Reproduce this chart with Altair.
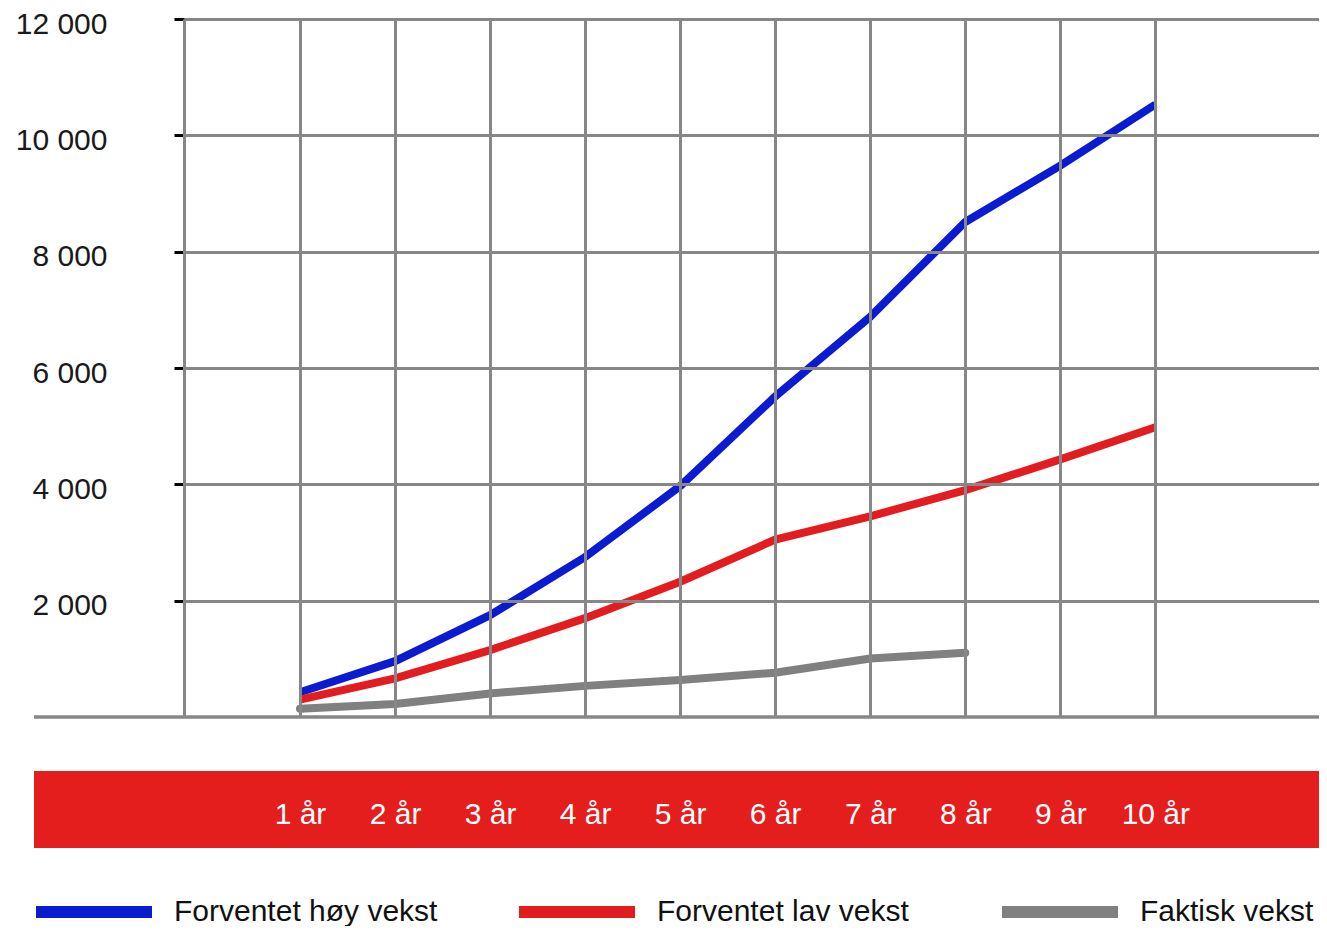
import altair as alt
import pandas as pd

years = [1, 2, 3, 4, 5, 6, 7, 8, 9, 10]
hoy_vekst = [425, 960, 1750, 2750, 3970, 5510, 6880, 8510, 9480, 10530]
lav_vekst = [300, 665, 1150, 1700, 2325, 3050, 3450, 3900, 4430, 4980]
faktisk_vekst = [140, 225, 405, 535, 636, 762, 1005, 1105]

series_names = ["Forventet høy vekst", "Forventet lav vekst", "Faktisk vekst"]
series_colors = ["#0b1bcf", "#e31d1f", "#808080"]
y_ticks = [2000, 4000, 6000, 8000, 10000, 12000]

rows = []
for name, vals in zip(series_names, [hoy_vekst, lav_vekst, faktisk_vekst]):
    for yr, v in zip(years, vals):
        rows.append({"år": yr, "verdi": v, "serie": name})
df = pd.DataFrame(rows)

W, H = 1135, 698
GRID = "#878787"
FONT = "Liberation Sans"

xscale = alt.Scale(domain=[-0.2205, 11.722], nice=False, zero=False)
yscale = alt.Scale(domain=[0, 12000], nice=False)
cscale = alt.Scale(domain=series_names, range=series_colors)

xaxis = alt.Axis(values=years, grid=True, gridColor=GRID, gridWidth=3, gridOpacity=1,
                 ticks=False, domain=False, labelColor="white", labelFontSize=30,
                 labelFont=FONT, labelPadding=97, labelBaseline="middle",
                 labelExpr="datum.value + ' år'", title=None, zindex=1)
yaxis = alt.Axis(values=y_ticks, grid=True, gridColor=GRID, gridWidth=3, gridOpacity=1,
                 ticks=True, tickColor="black", tickSize=10, tickWidth=3,
                 domain=True, domainColor=GRID, domainWidth=3,
                 labelColor="#1a1a1a", labelFontSize=30, labelFont=FONT,
                 labelPadding=67, labelBaseline="middle", labelOffset=5,
                 labelExpr="replace(format(datum.value, ','), ',', ' ')",
                 title=None, zindex=1)

band = alt.Chart(alt.Data(values=[{"b": 1}])).mark_rect(color="#e41d1d").encode(
    x=alt.value(-150), x2=alt.value(W), y=alt.value(752), y2=alt.value(829)
)

baseline = alt.Chart(pd.DataFrame({"null": [0]})).mark_rule(color=GRID, strokeWidth=3.5).encode(
    y=alt.Y("null:Q", scale=yscale, axis=yaxis), x=alt.value(-150), x2=alt.value(W)
)

legend = alt.Legend(title=None, orient="none", direction="horizontal",
                    legendX=-154, legendY=829, symbolStrokeWidth=12, symbolSize=13456,
                    symbolType="stroke", labelFontSize=30, labelFont=FONT, labelColor="#111",
                    labelLimit=500, labelOffset=16, gridAlign="all", columnPadding=57)

base = alt.Chart(df).encode(
    x=alt.X("år:Q", scale=xscale, axis=xaxis),
    y=alt.Y("verdi:Q", scale=yscale, axis=yaxis),
    color=alt.Color("serie:N", scale=cscale, legend=legend, sort=series_names),
    order=alt.Order("år:Q"),
)

forecast = base.transform_filter(alt.datum.serie != "Faktisk vekst").mark_line(
    strokeWidth=8, strokeCap="butt")
actual = base.transform_filter(alt.datum.serie == "Faktisk vekst").mark_line(
    strokeWidth=8, strokeCap="round")

chart = alt.layer(band, baseline, forecast, actual).properties(
    width=W, height=H,
    autosize=alt.AutoSizeParams(type="none"),
    padding={"left": 176, "top": 11, "right": 0, "bottom": 209},
).configure_view(stroke=None).configure(font=FONT)

chart.save("out.html", embed_options={"renderer": "svg", "actions": False})
